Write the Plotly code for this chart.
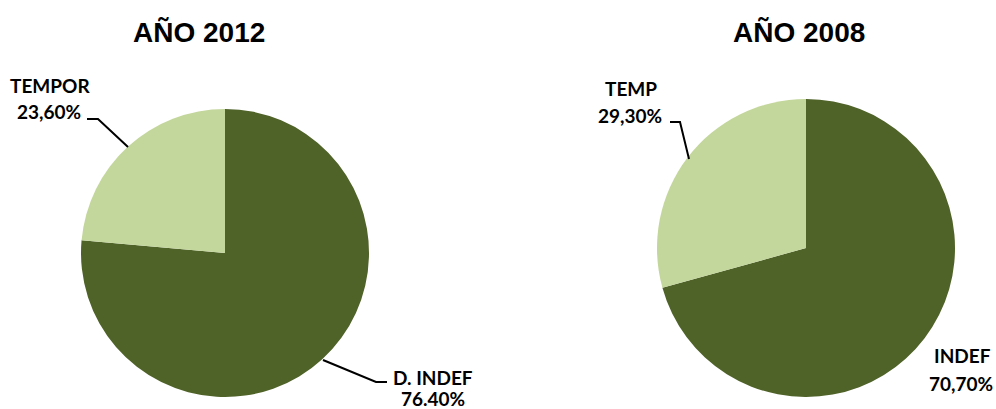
import plotly.graph_objects as go

W, H = 996, 409

# Data
titles = ["AÑO 2012", "AÑO 2008"]
labels_2012 = ["D. INDEF", "TEMPOR"]
values_2012 = [76.4, 23.6]
text_2012 = ["76.40%", "23,60%"]
labels_2008 = ["INDEF", "TEMP"]
values_2008 = [70.7, 29.3]
text_2008 = ["70,70%", "29,30%"]
colors = ["#4F6228", "#C3D69B"]


def px(x):
    return x / W


def py(y):
    return 1 - y / H


fig = go.Figure()

fig.add_trace(go.Pie(
    labels=labels_2012, values=values_2012, sort=False, direction="clockwise",
    rotation=0, textinfo="none", hoverinfo="label+percent",
    marker=dict(colors=colors, line=dict(width=0)),
    domain=dict(x=[px(81), px(369)], y=[py(397), py(109)]),
    showlegend=False,
))
fig.add_trace(go.Pie(
    labels=labels_2008, values=values_2008, sort=False, direction="clockwise",
    rotation=0, textinfo="none", hoverinfo="label+percent",
    marker=dict(colors=colors, line=dict(width=0)),
    domain=dict(x=[px(657), px(955)], y=[py(397), py(99)]),
    showlegend=False,
))

title_font = dict(family="Liberation Sans, Arial, sans-serif", size=28, color="#000000")
label_font = dict(family="Lato, sans-serif", size=19, color="#000000")

annotations = [
    dict(text="<b>%s</b>" % titles[0], x=px(199), y=py(33), font=title_font),
    dict(text="<b>%s</b>" % titles[1], x=px(799), y=py(33), font=title_font),
    dict(text="<b>%s</b>" % labels_2012[1], x=px(50), y=py(86), font=label_font),
    dict(text="<b>%s</b>" % text_2012[1], x=px(49), y=py(112), font=label_font),
    dict(text="<b>%s</b>" % labels_2012[0], x=px(433), y=py(377), font=label_font),
    dict(text="<b>%s</b>" % text_2012[0], x=px(433), y=py(398), font=label_font),
    dict(text="<b>%s</b>" % labels_2008[1], x=px(631), y=py(89), font=label_font),
    dict(text="<b>%s</b>" % text_2008[1], x=px(630), y=py(116), font=label_font),
    dict(text="<b>%s</b>" % labels_2008[0], x=px(962), y=py(355), font=label_font),
    dict(text="<b>%s</b>" % text_2008[0], x=px(961), y=py(383), font=label_font),
]
for a in annotations:
    a.update(xref="paper", yref="paper", showarrow=False, xanchor="center", yanchor="middle")

leaders = [
    [(87, 119), (98, 119), (128, 147)],
    [(323, 360), (376, 382), (387, 382)],
    [(670, 122), (680, 122), (689, 159)],
]
shapes = []
for pts in leaders:
    path = "M " + " L ".join("%f,%f" % (px(x), py(y)) for x, y in pts)
    shapes.append(dict(type="path", path=path, xref="paper", yref="paper",
                       line=dict(color="#000000", width=2)))

fig.update_layout(
    width=W, height=H, margin=dict(l=0, r=0, t=0, b=0),
    paper_bgcolor="#FFFFFF", plot_bgcolor="#FFFFFF",
    annotations=annotations, shapes=shapes,
)

fig.write_html("out.html", config={"displayModeBar": False},
               post_script="document.body.style.margin='0';document.body.style.overflow='hidden';")
